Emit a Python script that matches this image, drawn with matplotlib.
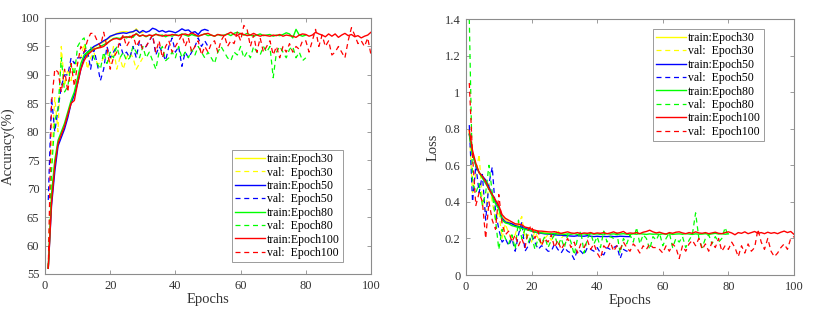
import numpy as np
import matplotlib
matplotlib.use("Agg")
import matplotlib.pyplot as plt

plt.rcParams['font.family'] = ['Liberation Serif', 'DejaVu Serif']

# ---- accuracy (%) ----
acc_train30 = [56, 68, 74, 78, 79.5, 81, 83, 85, 86.5, 89, 91.5, 93, 93.8, 94.3, 94.8,
               95.2, 95.5, 95.8, 96.2, 96.6, 97, 97.3, 97.5, 97.6, 97.6, 97.4, 97.5, 98.1, 97.4, 97.5]
acc_val30 = [56, 75, 86, 80, 95, 88, 91, 89, 92, 92, 93, 95.5, 91, 93, 94, 92, 92, 93, 94, 92,
             95, 91, 93, 91, 93, 94, 93, 91, 92, 93]
acc_train50 = [56, 67, 73, 77.5, 79, 80.5, 82.5, 85, 86.5, 88.5, 91, 93, 94, 94.5, 95,
               95.3, 95.6, 96, 96.3, 96.8, 97, 97.2, 97.3, 97.4, 97.3, 97.5, 97.6, 97.9, 97.4, 97.8,
               97.5, 97.7, 98.2, 98, 97.6, 97.8, 97.5, 97.7, 97.6, 97.4, 97.7, 98.1, 97.8, 97.9, 97.4,
               97.6, 97.1, 97.8, 98, 97.8]
acc_val50 = [68, 86, 80, 84, 88, 90, 90, 93, 92, 93, 93, 94, 94.5, 91, 94.5, 92, 89, 91, 95, 93,
             94, 95, 95.5, 93.5, 94, 93, 95, 93, 96, 94.5, 95, 96, 97, 93.5, 95, 94, 92.5, 95, 96.5, 94,
             95, 91.5, 94, 93, 94, 95, 96.5, 95, 96, 95]
acc_train80 = [56, 69, 75, 78.5, 80, 81.5, 83.5, 85.5, 87, 89.5, 92, 93.5, 94, 94.2, 94.5,
               94.7, 95, 95.3, 95.6, 96, 96.4, 96.5, 96.4, 96.7, 96.5, 96.8, 96.6, 97.3, 96.8, 97,
               96.7, 97, 96.8, 97.2, 96.9, 97, 96.7, 97, 96.8, 97.1, 96.9, 97.2, 97, 96.8, 97.1,
               96.9, 96.8, 97, 97.2, 96.9, 97, 96.8, 97.1, 96.9, 97, 97.2, 96.9, 97.3, 97.5, 97.2,
               97, 97.3, 97, 96.8, 97, 97.2, 96.9, 97, 97.1, 96.8, 97, 96.9, 97.1, 97.4, 97.2,
               96.5, 98, 97, 96.8, 97]
acc_val80 = [56, 73, 82, 84, 93, 87, 88, 92, 90, 95, 96, 96.5, 93, 95, 93, 92, 91, 94, 92, 94,
             93, 95, 93, 94, 92.5, 93, 95, 94, 93, 95, 93, 94, 92.5, 91, 94, 95, 92.5, 93, 94, 93,
             95, 93, 94, 93, 94.5, 93.5, 95, 94, 93, 94, 93, 92, 94, 95, 94, 93, 92.5, 94, 93.5, 95,
             93, 94, 93, 95, 94, 93.5, 95, 94, 95, 89.5, 94, 95, 94, 93, 94.5, 95, 93, 94, 92.5, 93]
acc_train100 = [56, 67.5, 74, 78, 79.5, 81, 83, 85, 85.5, 88.5, 91, 92.5, 93.5, 94, 94.5,
                94.7, 94.8, 95, 95.5, 96, 96.3, 96.4, 96.2, 96.6, 96.7, 96.6, 96.9, 97.2, 96.8, 97,
                96.8, 97, 96.9, 97.1, 97, 96.8, 97, 96.9, 97.1, 97, 96.9, 97.1, 97.2, 97, 97.4,
                97.1, 96.8, 97, 97.2, 97.3, 97, 96.8, 97.1, 97, 96.9, 97.2, 97.5, 97.1, 96.9, 97.3,
                97.1, 96.9, 97, 97.3, 97, 96.8, 97, 96.9, 96.8, 97, 96.9, 97.1, 96.8, 97, 96.9,
                96.8, 96.6, 97, 97.2, 97.1, 96.8, 97, 97.5, 97.2, 97, 96.7, 97.2, 96.8, 97.2, 96.6,
                97, 97.3, 96.9, 97.1, 96.7, 96.9, 96.5, 96.8, 97, 97.5]
acc_val100 = [56, 85, 91, 90.5, 87, 91, 87, 92, 88, 92, 95, 94, 96, 97.3, 97.3, 96, 95, 97.5, 95, 91,
              93, 94, 96, 97, 95, 96, 97, 95, 96, 94.5, 95, 96, 97, 94, 96, 93, 95, 96, 94, 95,
              96, 97, 95, 96.5, 94, 95, 96, 93.5, 95, 94, 95.5, 96, 94, 96, 97, 95, 96, 95.5, 97.5, 96,
              98.7, 98, 95, 97, 94, 96.5, 94, 95, 96, 93.5, 95, 93, 95, 94, 95.5, 94, 95, 94.5, 96, 96,
              94, 96, 98, 95, 97, 95, 96, 93.5, 94, 95, 94, 93, 96, 98.3, 97, 95.5, 96, 95, 96.5, 93.5]

# ---- loss ----
loss_train30 = [0.78, 0.67, 0.6, 0.56, 0.54, 0.51, 0.47, 0.44, 0.4, 0.37, 0.32, 0.3, 0.29, 0.28, 0.275,
                0.27, 0.265, 0.26, 0.255, 0.245, 0.24, 0.235, 0.232, 0.23, 0.228, 0.226, 0.225, 0.224,
                0.222, 0.222]
loss_val30 = [0.8, 0.45, 0.55, 0.66, 0.4, 0.35, 0.5, 0.4, 0.3, 0.35, 0.2, 0.28, 0.23, 0.2, 0.22,
              0.28, 0.32, 0.2, 0.22, 0.18, 0.24, 0.2, 0.17, 0.2, 0.22, 0.19, 0.21, 0.25, 0.2, 0.22]
loss_train50 = [0.77, 0.66, 0.6, 0.56, 0.54, 0.52, 0.48, 0.44, 0.4, 0.37, 0.31, 0.29, 0.285, 0.28, 0.27,
                0.265, 0.26, 0.255, 0.25, 0.24, 0.235, 0.23, 0.228, 0.225, 0.224, 0.222, 0.22, 0.218,
                0.218, 0.215, 0.215, 0.213, 0.212, 0.215, 0.213, 0.212, 0.215, 0.212, 0.21, 0.212,
                0.21, 0.211, 0.21, 0.212, 0.21, 0.21, 0.212, 0.211, 0.21, 0.21]
loss_val50 = [0.82, 0.4, 0.6, 0.45, 0.55, 0.3, 0.5, 0.59, 0.35, 0.25, 0.18, 0.2, 0.16, 0.2, 0.13,
              0.22, 0.29, 0.13, 0.16, 0.22, 0.18, 0.14, 0.16, 0.15, 0.13, 0.13, 0.17, 0.14, 0.12, 0.15,
              0.13, 0.12, 0.085, 0.14, 0.13, 0.11, 0.15, 0.14, 0.13, 0.15, 0.12, 0.11, 0.15, 0.14, 0.15,
              0.16, 0.09, 0.14, 0.13, 0.14]
loss_train80 = [0.77, 0.66, 0.6, 0.56, 0.53, 0.5, 0.47, 0.43, 0.39, 0.36, 0.3, 0.285, 0.28, 0.27, 0.265,
                0.26, 0.255, 0.25, 0.245, 0.24, 0.235, 0.232, 0.23, 0.228, 0.226, 0.225, 0.228, 0.224,
                0.226, 0.222, 0.225, 0.223, 0.226, 0.222, 0.224, 0.225, 0.222, 0.226, 0.223, 0.225,
                0.222, 0.224, 0.226, 0.223, 0.225, 0.222, 0.224, 0.226, 0.223, 0.222, 0.225, 0.223,
                0.226, 0.224, 0.222, 0.225, 0.223, 0.224, 0.222, 0.225, 0.223, 0.226, 0.222, 0.224,
                0.225, 0.223, 0.226, 0.224, 0.222, 0.225, 0.223, 0.224, 0.226, 0.222, 0.225, 0.228,
                0.224, 0.226, 0.223, 0.225]
loss_val80 = [1.4, 0.5, 0.45, 0.5, 0.38, 0.45, 0.6, 0.45, 0.3, 0.14, 0.25, 0.2, 0.17, 0.22, 0.14,
              0.3, 0.2, 0.25, 0.18, 0.22, 0.14, 0.2, 0.17, 0.21, 0.15, 0.19, 0.22, 0.16, 0.2, 0.15,
              0.22, 0.18, 0.11, 0.2, 0.24, 0.12, 0.2, 0.23, 0.17, 0.21, 0.15, 0.24, 0.18, 0.21, 0.2,
              0.23, 0.12, 0.2, 0.17, 0.22, 0.18, 0.26, 0.17, 0.22, 0.2, 0.14, 0.21, 0.19, 0.23, 0.16,
              0.2, 0.23, 0.15, 0.2, 0.18, 0.21, 0.15, 0.19, 0.22, 0.34, 0.2, 0.15, 0.2, 0.22, 0.17,
              0.21, 0.18, 0.2, 0.26, 0.21]
loss_train100 = [0.79, 0.68, 0.61, 0.56, 0.54, 0.51, 0.47, 0.44, 0.41, 0.38, 0.33, 0.31, 0.3, 0.29, 0.28,
                 0.278, 0.275, 0.262, 0.258, 0.25, 0.245, 0.24, 0.24, 0.238, 0.236, 0.235, 0.237, 0.232,
                 0.228, 0.232, 0.236, 0.23, 0.228, 0.232, 0.226, 0.23, 0.228, 0.232, 0.226, 0.23, 0.228,
                 0.232, 0.226, 0.23, 0.236, 0.228, 0.232, 0.238, 0.226, 0.23, 0.228, 0.232, 0.226, 0.234,
                 0.238, 0.245, 0.236, 0.23, 0.234, 0.228, 0.224, 0.232, 0.228, 0.234, 0.236, 0.23, 0.226,
                 0.232, 0.228, 0.236, 0.23, 0.228, 0.232, 0.226, 0.23, 0.234, 0.228, 0.226, 0.232, 0.236,
                 0.23, 0.22, 0.232, 0.228, 0.236, 0.226, 0.232, 0.238, 0.228, 0.232, 0.226, 0.234, 0.228,
                 0.232, 0.226, 0.234, 0.24, 0.232, 0.238, 0.222]
loss_val100 = [1.05, 0.65, 0.38, 0.45, 0.4, 0.2, 0.4, 0.3, 0.25, 0.44, 0.28, 0.22, 0.24, 0.18, 0.22,
               0.16, 0.2, 0.15, 0.25, 0.27, 0.2, 0.24, 0.16, 0.2, 0.18, 0.22, 0.15, 0.19, 0.14, 0.17,
               0.2, 0.15, 0.18, 0.12, 0.17, 0.15, 0.19, 0.14, 0.17, 0.12, 0.09, 0.16, 0.14, 0.18, 0.13,
               0.16, 0.14, 0.18, 0.15, 0.13, 0.17, 0.15, 0.12, 0.16, 0.14, 0.17, 0.15, 0.15, 0.14, 0.12,
               0.16, 0.13, 0.17, 0.15, 0.09, 0.16, 0.13, 0.17, 0.19, 0.16, 0.2, 0.14, 0.17, 0.13, 0.18,
               0.15, 0.2, 0.13, 0.16, 0.14, 0.18, 0.15, 0.1, 0.16, 0.12, 0.17, 0.13, 0.15, 0.25, 0.18,
               0.14, 0.2, 0.13, 0.1, 0.12, 0.15, 0.17, 0.14, 0.2, 0.21]

labels = ["Epoch30", "Epoch50", "Epoch80", "Epoch100"]
colors = ["#ffff00", "#0000ff", "#00ff00", "#ff0000"]

acc_series = [(acc_train30, acc_val30), (acc_train50, acc_val50),
              (acc_train80, acc_val80), (acc_train100, acc_val100)]
loss_series = [(loss_train30, loss_val30), (loss_train50, loss_val50),
               (loss_train80, loss_val80), (loss_train100, loss_val100)]

GRAY = "#8c8c8c"
TXT = "#333333"


def draw(ax, series, ylim, yticks, ytick_labels, ylabel, legend_loc, legend_anchor):
    for (train, val), lab, c in zip(series, labels, colors):
        ax.plot(np.arange(1, len(train) + 1), train, color=c, lw=1.0, label=f"train:{lab}")
        ax.plot(np.arange(1, len(val) + 1), val, color=c, lw=0.9, ls=(0, (4, 3)),
                label=f"val:  {lab}")
    ax.set_xlim(0, 100)
    ax.set_ylim(*ylim)
    ax.set_xticks(range(0, 101, 20))
    ax.set_yticks(yticks)
    ax.set_yticklabels(ytick_labels)
    ax.set_xlabel("Epochs", fontsize=10.5, color=TXT, labelpad=1)
    ax.set_ylabel(ylabel, fontsize=10.5, color=TXT, labelpad=4)
    ax.tick_params(direction="in", length=3, width=0.6, color=GRAY, labelcolor=TXT,
                   labelsize=9, top=True, right=True, pad=4)
    for s in ax.spines.values():
        s.set_color(GRAY)
        s.set_linewidth(0.8)
    leg = ax.legend(loc=legend_loc, bbox_to_anchor=legend_anchor, borderaxespad=0,
                    fontsize=8.5, handlelength=2.5, handletextpad=0.2, labelspacing=0.12,
                    borderpad=0.25, fancybox=False, framealpha=1)
    leg.get_frame().set_edgecolor(GRAY)
    leg.get_frame().set_linewidth(0.6)


fig = plt.figure(figsize=(8.23, 3.11), dpi=100)
ax1 = fig.add_axes([45 / 823, 37 / 311, 326 / 823, 256 / 311])
ax2 = fig.add_axes([466 / 823, 36 / 311, 328 / 823, 256 / 311])

draw(ax1, acc_series, (55, 100), range(55, 101, 5), [str(v) for v in range(55, 101, 5)],
     "Accuracy(%)", "lower right", (0.914, 0.047))
draw(ax2, loss_series, (0, 1.4), np.arange(0, 1.41, 0.2),
     ["0", "0.2", "0.4", "0.6", "0.8", "1", "1.2", "1.4"],
     "Loss", "upper right", (0.909, 0.961))

fig.savefig("out.png", dpi=100)
